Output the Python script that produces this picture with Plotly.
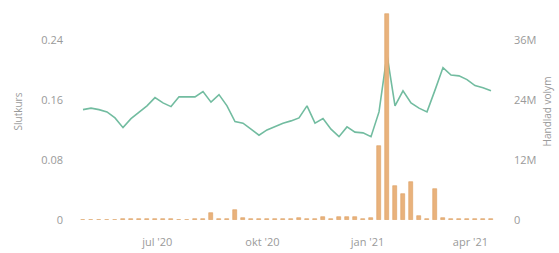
import pandas as pd
import plotly.graph_objects as go

start_date = "2020-04-27"
n_weeks = 52

close_price = [0.147, 0.149, 0.147, 0.144, 0.136, 0.123, 0.135, 0.143, 0.152, 0.163,
               0.156, 0.151, 0.164, 0.164, 0.164, 0.171, 0.157, 0.167, 0.152, 0.131,
               0.129, 0.121, 0.113, 0.120, 0.125, 0.129, 0.132, 0.136, 0.152, 0.129,
               0.135, 0.121, 0.111, 0.124, 0.117, 0.116, 0.111, 0.144, 0.220, 0.152,
               0.172, 0.156, 0.149, 0.144, 0.173, 0.203, 0.193, 0.192, 0.187, 0.179,
               0.176, 0.172]

volume_m = [0.1, 0.1, 0.1, 0.1, 0.1, 0.3, 0.2, 0.3, 0.3, 0.2,
            0.3, 0.2, 0.1, 0.1, 0.3, 0.3, 1.4, 0.3, 0.2, 1.9,
            0.5, 0.3, 0.3, 0.3, 0.3, 0.3, 0.3, 0.4, 0.3, 0.2,
            0.6, 0.3, 0.6, 0.6, 0.6, 0.2, 0.4, 14.8, 41.2, 6.8,
            5.2, 7.6, 0.8, 0.3, 6.2, 0.5, 0.3, 0.3, 0.3, 0.2,
            0.2, 0.3]

x_tick_dates = ["2020-07-01", "2020-10-01", "2021-01-01", "2021-04-01"]
x_tick_labels = ["jul '20", "okt '20", "jan '21", "apr '21"]
y_ticks = [0, 0.08, 0.16, 0.24]
y_tick_labels = ["0", "0.08", "0.16", "0.24"]
y2_ticks = [0, 12e6, 24e6, 36e6]
y2_tick_labels = ["0", "12M", "24M", "36M"]

dates = pd.date_range(start_date, periods=n_weeks, freq="7D")
volume = [v * 1e6 for v in volume_m]

fig = go.Figure()
fig.add_trace(go.Scatter(x=dates, y=close_price, mode="lines",
                         line=dict(color="#72bca0", width=1.6),
                         yaxis="y", showlegend=False))
fig.add_trace(go.Bar(x=dates, y=volume, yaxis="y2",
                     width=3.6 * 24 * 3600 * 1000,
                     marker=dict(color="#e9b27c", line=dict(color="#dc9f62", width=0.6)),
                     showlegend=False))

top = 0.289
font_col = "#9a9a9a"
fig.update_layout(
    width=559, height=253,
    margin=dict(l=79, r=64, t=3, b=33),
    paper_bgcolor="white", plot_bgcolor="white",
    font=dict(family="Open Sans", size=11, color=font_col),
    bargap=0,
    xaxis=dict(tickvals=x_tick_dates, ticktext=x_tick_labels, showgrid=False,
               zeroline=False, showline=False, ticks="", ticklabelstandoff=14,
               tickfont=dict(size=11, color=font_col)),
    yaxis=dict(range=[0, top], tickvals=y_ticks, ticktext=y_tick_labels,
               showgrid=False, zeroline=False, showline=False,
               ticks="", ticklabelstandoff=15,
               title=dict(text="Slutkurs", font=dict(size=10, color=font_col), standoff=16)),
    yaxis2=dict(range=[0, top * 150e6], tickvals=y2_ticks, ticktext=y2_tick_labels,
                overlaying="y", side="right", showgrid=False, zeroline=False,
                showline=False, ticks="", ticklabelstandoff=18,
                title=dict(text="Handlad volym", font=dict(size=10, color=font_col), standoff=8)),
)

fig.write_html("out.html", config={"displayModeBar": False},
               post_script="document.body.style.margin='0';")
